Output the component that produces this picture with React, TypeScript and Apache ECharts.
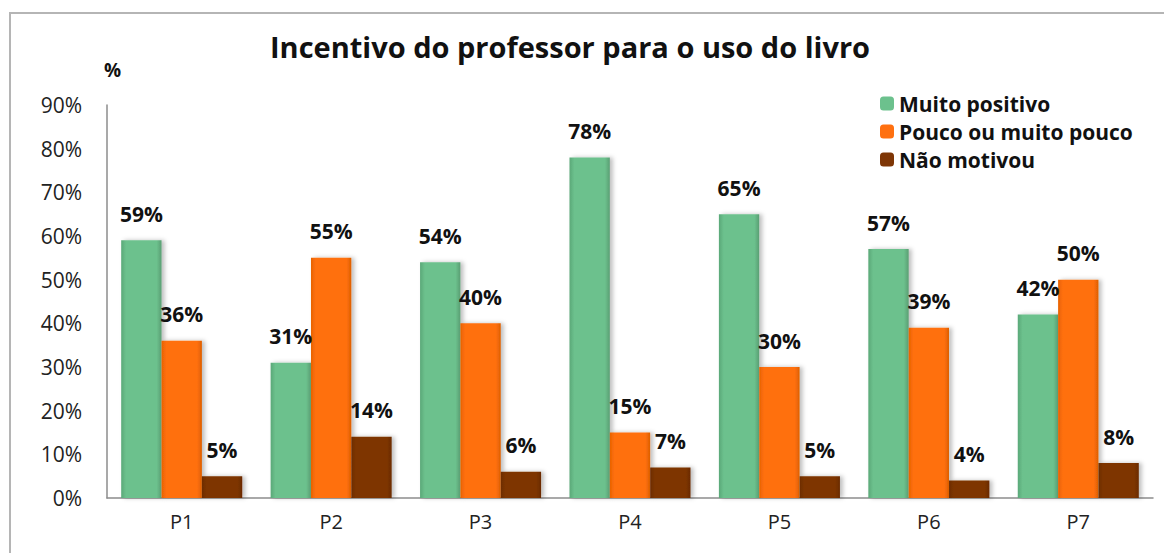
import React, { useEffect, useRef } from "react";
import * as echarts from "echarts";

const categories = ["P1", "P2", "P3", "P4", "P5", "P6", "P7"];
const muitoPositivo = [59, 31, 54, 78, 65, 57, 42];
const poucoOuMuitoPouco = [36, 55, 40, 15, 30, 39, 50];
const naoMotivou = [5, 14, 6, 7, 5, 4, 8];
const seriesNames = ["Muito positivo", "Pouco ou muito pouco", "Não motivou"];
const yTicks = [0, 10, 20, 30, 40, 50, 60, 70, 80, 90];

const FONT = "'Open Sans', Lato, sans-serif";

function grad(dark: string, mid: string, light: string) {
  return new echarts.graphic.LinearGradient(0, 0, 1, 0, [
    { offset: 0, color: dark },
    { offset: 0.12, color: mid },
    { offset: 0.88, color: mid },
    { offset: 1, color: light },
  ]);
}

export default function App() {
  const ref = useRef<HTMLDivElement>(null);
  useEffect(() => {
    document.body.style.margin = "0";
    const chart = echarts.init(ref.current!, null, { renderer: "svg" });
    const colors = [
      grad("#5aa878", "#6cc18d", "#5a9e73"),
      grad("#e86200", "#ff7010", "#dd5f00"),
      grad("#6d2c00", "#7e3606", "#6a2a00"),
    ];
    const legendColors = ["#6cc18d", "#ff7010", "#7e3606"];
    const data = [muitoPositivo, poucoOuMuitoPouco, naoMotivou];
    chart.setOption({
      animation: false,
      backgroundColor: "#ffffff",
      title: {
        text: "Incentivo do professor para o uso do livro",
        left: 565,
        textAlign: "center",
        top: 27,
        textStyle: { fontFamily: FONT, fontWeight: "bold", fontSize: 29, color: "#111" },
      },
      legend: {
        orient: "vertical",
        left: 875,
        top: 88,
        itemWidth: 14,
        itemHeight: 14,
        itemGap: 7,
        data: seriesNames.map((n, i) => ({ name: n, itemStyle: { color: legendColors[i] } })),
        textStyle: { fontFamily: FONT, fontWeight: "bold", fontSize: 21, color: "#111", padding: [0, 0, 0, 0] },
      },
      grid: { left: 107, right: 11, top: 105, bottom: 55, containLabel: false },
      xAxis: {
        type: "category",
        data: categories,
        axisLine: { lineStyle: { color: "#8c8c8c", width: 1.5 } },
        axisTick: { show: false },
        axisLabel: { fontFamily: FONT, fontSize: 20, color: "#222", margin: 13 },
      },
      yAxis: {
        type: "value",
        min: 0,
        max: 90,
        interval: 10,
        name: "%",
        nameLocation: "end",
        nameGap: 26,
        nameTextStyle: { fontFamily: FONT, fontWeight: "bold", fontSize: 19, color: "#111", align: "left", padding: [0, 0, 0, -3] },
        axisLine: { show: true, lineStyle: { color: "#8c8c8c", width: 1.5 } },
        axisTick: { show: false },
        splitLine: { show: false },
        axisLabel: {
          fontFamily: FONT,
          fontSize: 21,
          color: "#222",
          margin: 25,
          formatter: (v: number) => (yTicks.includes(v) ? v + "%" : ""),
        },
      },
      series: data.map((arr, i) => ({
        name: seriesNames[i],
        type: "bar",
        data: arr,
        barGap: "0%",
        barCategoryGap: "19%",
        itemStyle: {
          color: colors[i],
          shadowColor: "rgba(0,0,0,0.25)",
          shadowBlur: 4,
          shadowOffsetX: 3,
          shadowOffsetY: 0,
        },
        label: {
          show: true,
          position: "top",
          distance: 16,
          formatter: "{c}%",
          fontFamily: FONT,
          fontWeight: "bold",
          fontSize: 21,
          color: "#111",
        },
      })),
      graphic: [
        {
          type: "rect",
          shape: { x: 10, y: 13, width: 1200, height: 600 },
          style: { fill: "none", stroke: "#b5b5b5", lineWidth: 2 },
          silent: true,
        },
      ],
    });
    return () => chart.dispose();
  }, []);
  return <div ref={ref} style={{ width: 1164, height: 553 }} />;
}
